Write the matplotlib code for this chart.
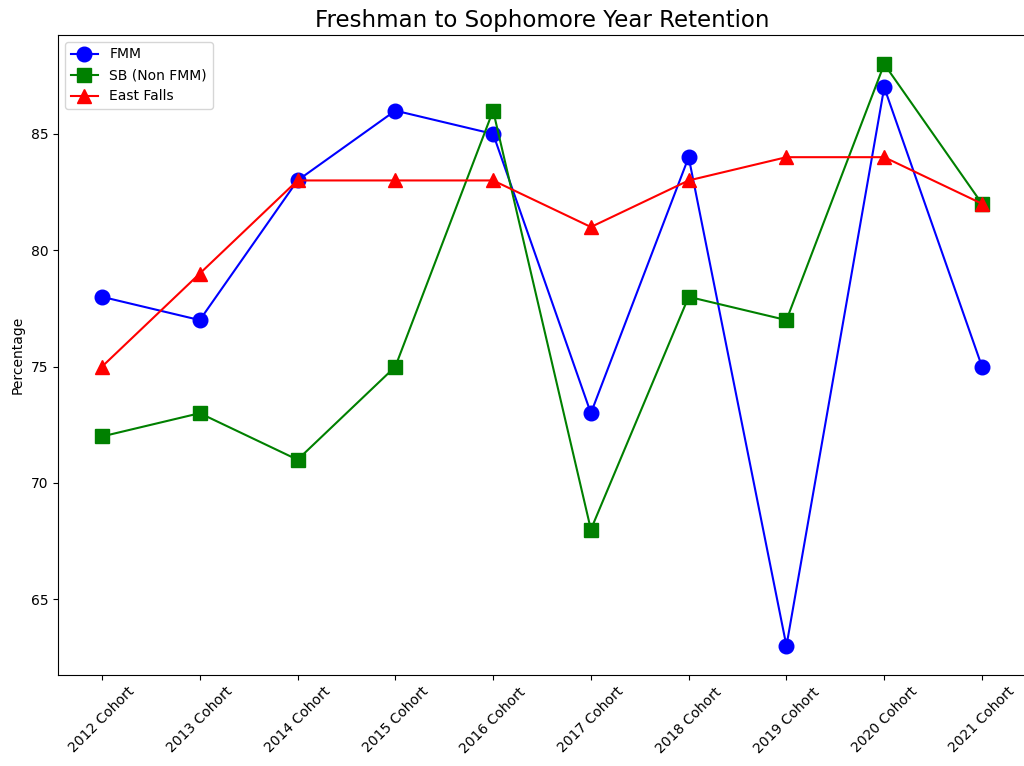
import matplotlib
matplotlib.use("Agg")
import matplotlib.pyplot as plt

cohorts = ["2012 Cohort", "2013 Cohort", "2014 Cohort", "2015 Cohort", "2016 Cohort",
           "2017 Cohort", "2018 Cohort", "2019 Cohort", "2020 Cohort", "2021 Cohort"]
fmm = [78, 77, 83, 86, 85, 73, 84, 63, 87, 75]
sb = [72, 73, 71, 75, 86, 68, 78, 77, 88, 82]
east_falls = [75, 79, 83, 83, 83, 81, 83, 84, 84, 82]

fig = plt.figure(figsize=(10.24, 7.66), dpi=100)
ax = fig.add_axes([58/1024, 1 - 675/766, (1026 - 58)/1024, (675 - 35)/766])

x = list(range(len(cohorts)))
ax.plot(x, fmm, color="blue", marker="o", markersize=10.5, label="FMM")
ax.plot(x, sb, color="green", marker="s", markersize=10.5, label="SB (Non FMM)")
ax.plot(x, east_falls, color="red", marker="^", markersize=10.5, label="East Falls")

ax.set_xticks(x)
ax.set_xticklabels(cohorts, rotation=45, ha="center")
ax.set_ylabel("Percentage")
ax.set_title("Freshman to Sophomore Year Retention", fontsize=16.5)
ax.legend(loc="upper left")

fig.savefig("out.png", dpi=100)
